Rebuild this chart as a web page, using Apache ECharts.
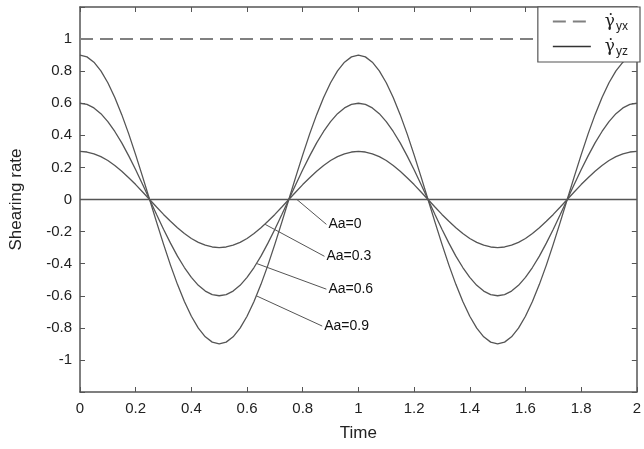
<!DOCTYPE html>
<html>
<head>
<meta charset="utf-8">
<title>Shearing rate</title>
<script src="https://cdn.jsdelivr.net/npm/echarts@6/dist/echarts.min.js"></script>
<style>
  html, body { margin: 0; padding: 0; background: #fff; }
  #chart { width: 644px; height: 449px; }
</style>
</head>
<body>
<div id="chart"></div>
<script>
// sampled time points (step 0.025)
const time = [
  0, 0.025, 0.05, 0.075, 0.1, 0.125, 0.15, 0.175, 0.2, 0.225,
  0.25, 0.275, 0.3, 0.325, 0.35, 0.375, 0.4, 0.425, 0.45, 0.475,
  0.5, 0.525, 0.55, 0.575, 0.6, 0.625, 0.65, 0.675, 0.7, 0.725,
  0.75, 0.775, 0.8, 0.825, 0.85, 0.875, 0.9, 0.925, 0.95, 0.975,
  1, 1.025, 1.05, 1.075, 1.1, 1.125, 1.15, 1.175, 1.2, 1.225,
  1.25, 1.275, 1.3, 1.325, 1.35, 1.375, 1.4, 1.425, 1.45, 1.475,
  1.5, 1.525, 1.55, 1.575, 1.6, 1.625, 1.65, 1.675, 1.7, 1.725,
  1.75, 1.775, 1.8, 1.825, 1.85, 1.875, 1.9, 1.925, 1.95, 1.975,
  2
]
// yz shearing rate
const aa0Time = [0, 2]
const rateAa0 = [0, 0]
const rateAa03 = [
  0.3, 0.296, 0.285, 0.267, 0.243, 0.212, 0.176, 0.136, 0.093, 0.047,
  0, -0.047, -0.093, -0.136, -0.176, -0.212, -0.243, -0.267, -0.285, -0.296,
  -0.3, -0.296, -0.285, -0.267, -0.243, -0.212, -0.176, -0.136, -0.093, -0.047,
  0, 0.047, 0.093, 0.136, 0.176, 0.212, 0.243, 0.267, 0.285, 0.296,
  0.3, 0.296, 0.285, 0.267, 0.243, 0.212, 0.176, 0.136, 0.093, 0.047,
  0, -0.047, -0.093, -0.136, -0.176, -0.212, -0.243, -0.267, -0.285, -0.296,
  -0.3, -0.296, -0.285, -0.267, -0.243, -0.212, -0.176, -0.136, -0.093, -0.047,
  0, 0.047, 0.093, 0.136, 0.176, 0.212, 0.243, 0.267, 0.285, 0.296,
  0.3
]
const rateAa06 = [
  0.6, 0.593, 0.571, 0.535, 0.485, 0.424, 0.353, 0.272, 0.185, 0.094,
  0, -0.094, -0.185, -0.272, -0.353, -0.424, -0.485, -0.535, -0.571, -0.593,
  -0.6, -0.593, -0.571, -0.535, -0.485, -0.424, -0.353, -0.272, -0.185, -0.094,
  0, 0.094, 0.185, 0.272, 0.353, 0.424, 0.485, 0.535, 0.571, 0.593,
  0.6, 0.593, 0.571, 0.535, 0.485, 0.424, 0.353, 0.272, 0.185, 0.094,
  0, -0.094, -0.185, -0.272, -0.353, -0.424, -0.485, -0.535, -0.571, -0.593,
  -0.6, -0.593, -0.571, -0.535, -0.485, -0.424, -0.353, -0.272, -0.185, -0.094,
  0, 0.094, 0.185, 0.272, 0.353, 0.424, 0.485, 0.535, 0.571, 0.593,
  0.6
]
const rateAa09 = [
  0.9, 0.889, 0.856, 0.802, 0.728, 0.636, 0.529, 0.409, 0.278, 0.141,
  0, -0.141, -0.278, -0.409, -0.529, -0.636, -0.728, -0.802, -0.856, -0.889,
  -0.9, -0.889, -0.856, -0.802, -0.728, -0.636, -0.529, -0.409, -0.278, -0.141,
  0, 0.141, 0.278, 0.409, 0.529, 0.636, 0.728, 0.802, 0.856, 0.889,
  0.9, 0.889, 0.856, 0.802, 0.728, 0.636, 0.529, 0.409, 0.278, 0.141,
  0, -0.141, -0.278, -0.409, -0.529, -0.636, -0.728, -0.802, -0.856, -0.889,
  -0.9, -0.889, -0.856, -0.802, -0.728, -0.636, -0.529, -0.409, -0.278, -0.141,
  0, 0.141, 0.278, 0.409, 0.529, 0.636, 0.728, 0.802, 0.856, 0.889,
  0.9
]
// yx shearing rate (constant)
const yxTime = [0, 2]
const yxRate = [1, 1]

// curve labels with leader lines: [label, start point, end point]
const annotations = [
  ['Aa=0', [0.779, 0], [0.885, -0.155]],
  ['Aa=0.3', [0.665, -0.155], [0.878, -0.354]],
  ['Aa=0.6', [0.636, -0.4], [0.885, -0.559]],
  ['Aa=0.9', [0.633, -0.6], [0.87, -0.789]]
]

const FONT = 'Liberation Sans, Arial, sans-serif'
const AXIS = '#555'
const LINE = '#555'
const DASH = '#808080'

const pairs = (xs, ys) => xs.map((x, i) => [x, ys[i]])
const fmt = v => String(Math.round(v * 10) / 10)

const chart = echarts.init(document.getElementById('chart'))

const curve = (xs, ys, ann) => ({
  name: 'yz',
  type: 'line',
  smooth: false,
  symbol: 'none',
  data: pairs(xs, ys),
  lineStyle: { color: LINE, width: 1.3 },
  itemStyle: { color: LINE },
  silent: true,
  z: 3,
  markLine: {
    silent: true,
    symbol: 'none',
    animation: false,
    lineStyle: { color: LINE, width: 1, type: 'solid' },
    label: { show: false },
    data: [[{ coord: ann[1] }, { coord: ann[2] }]]
  },
  markPoint: {
    silent: true,
    symbol: 'circle',
    symbolSize: 0,
    animation: false,
    label: {
      show: true,
      position: 'right',
      distance: 2,
      formatter: '{b}',
      color: '#111',
      fontSize: 14,
      fontFamily: FONT
    },
    data: [{ name: ann[0], coord: ann[2] }]
  }
})

const tickAxis = {
  min: 0, max: 2, interval: 0.2,
  axisLine: { show: true, onZero: false, lineStyle: { color: AXIS, width: 1.5 } },
  axisTick: { show: true, inside: true, length: 5, lineStyle: { color: AXIS } },
  splitLine: { show: false }
}

const hidden = { color: 'rgba(0,0,0,0)', borderWidth: 0 }

chart.setOption({
  animation: false,
  backgroundColor: '#fff',
  grid: { left: 80, right: 4, top: 7, bottom: 57 },
  legend: {
    right: 4,
    top: 7,
    orient: 'vertical',
    backgroundColor: '#fff',
    borderColor: AXIS,
    borderWidth: 1.2,
    borderRadius: 0,
    padding: [6, 12, 4, 14],
    itemWidth: 38,
    itemHeight: 14,
    itemGap: 5,
    data: [
      { name: 'yx', itemStyle: hidden, lineStyle: { color: DASH, width: 2, type: [13, 7] } },
      { name: 'yz', itemStyle: hidden, lineStyle: { color: '#333', width: 1.3, type: 'solid' } }
    ],
    formatter: name => '{g|γ̇}{s|' + name + '}',
    textStyle: {
      color: '#222',
      rich: {
        g: { fontSize: 17, fontFamily: 'DejaVu Serif', padding: [0, 0, 0, 9] },
        s: { fontSize: 12, fontFamily: FONT, padding: [11, 0, 0, 1] }
      }
    }
  },
  xAxis: [
    Object.assign({}, tickAxis, {
      type: 'value',
      position: 'bottom',
      name: 'Time',
      nameLocation: 'middle',
      nameGap: 33,
      nameTextStyle: { fontSize: 17, color: '#222', fontFamily: FONT },
      axisLabel: { margin: 9, fontSize: 15, color: '#222', fontFamily: FONT, formatter: fmt }
    }),
    Object.assign({}, tickAxis, {
      type: 'value',
      position: 'top',
      axisLabel: { show: false }
    })
  ],
  yAxis: [
    Object.assign({}, tickAxis, {
      type: 'value',
      position: 'left',
      min: -1.2, max: 1.2, interval: 0.2,
      name: 'Shearing rate',
      nameLocation: 'middle',
      nameGap: 55,
      nameTextStyle: { fontSize: 17, color: '#222', fontFamily: FONT },
      axisLabel: {
        margin: 8, fontSize: 15, color: '#222', fontFamily: FONT,
        formatter: v => (Math.abs(v) > 1.1 ? '' : fmt(v))
      }
    }),
    Object.assign({}, tickAxis, {
      type: 'value',
      position: 'right',
      min: -1.2, max: 1.2, interval: 0.2,
      axisLabel: { show: false }
    })
  ],
  series: [
    {
      name: 'yx',
      type: 'line',
      symbol: 'none',
      data: pairs(yxTime, yxRate),
      lineStyle: { color: DASH, width: 2, type: [13, 7] },
      itemStyle: { color: DASH },
      silent: true,
      z: 2
    },
    curve(aa0Time, rateAa0, annotations[0]),
    curve(time, rateAa03, annotations[1]),
    curve(time, rateAa06, annotations[2]),
    curve(time, rateAa09, annotations[3])
  ]
})
</script>
</body>
</html>
